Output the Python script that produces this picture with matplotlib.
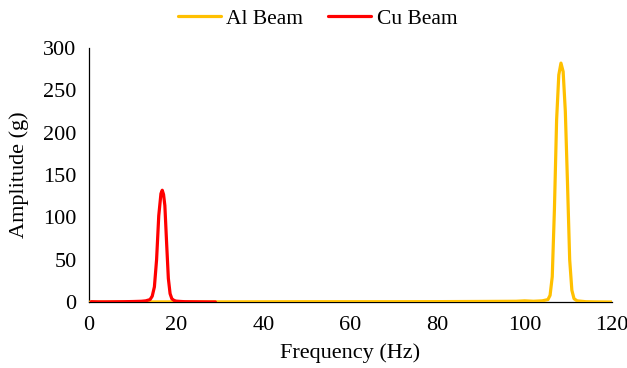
import matplotlib
matplotlib.use("Agg")
import matplotlib.pyplot as plt

# Al beam spectrum (Hz, g)
al_freq = [0, 10, 20, 30, 40, 50, 60, 70, 80, 90, 98, 100, 102, 104, 105.3,
           105.8, 106.3, 106.8, 107.3, 107.8, 108.3, 108.8, 109.3, 109.8, 110.3,
           110.8, 111.3, 112, 114, 116, 118, 120]
al_amp = [0, 0.2, 0.3, 0.3, 0.4, 0.5, 0.5, 0.5, 0.6, 0.8, 1, 1.5, 1, 1.5, 3,
          8, 30, 110, 215, 268, 282, 272, 225, 140, 50,
          14, 4, 1.5, 0.5, 0.3, 0.2, 0.1]

# Cu beam spectrum (Hz, g)
cu_freq = [0.5, 2, 4, 6, 8, 10, 12, 13, 14, 14.5, 15, 15.5, 16, 16.5,
           16.8, 17.1, 17.4, 17.8, 18.2, 18.6, 19, 19.5, 20, 21, 22, 24,
           26, 28, 29]
cu_amp = [0.5, 0.3, 0.3, 0.4, 0.5, 0.7, 1, 1.5, 3, 7, 18, 50, 102, 128,
          132, 127, 114, 70, 28, 10, 4, 2, 1.2, 0.8, 0.5, 0.4,
          0.3, 0.2, 0.2]

plt.rcParams['font.family'] = ['Liberation Serif', 'DejaVu Serif']

fig = plt.figure(figsize=(6.27, 3.68), dpi=100)
ax = fig.add_axes([0.142, 0.179, 0.834, 0.691])

ax.plot(al_freq, al_amp, color='#FFC000', linewidth=2.3, label='Al Beam',
        solid_capstyle='round', zorder=3)
ax.plot(cu_freq, cu_amp, color='#FF0000', linewidth=2.3, label='Cu Beam',
        solid_capstyle='round', zorder=4)

ax.set_xlim(0, 120)
ax.set_ylim(0, 300)
ax.set_xticks(range(0, 121, 20))
ax.set_yticks(range(0, 301, 50))
ax.tick_params(length=0, labelsize=16)
ax.tick_params(axis='x', pad=10)
ax.tick_params(axis='y', pad=9)
ax.spines['top'].set_visible(False)
ax.spines['right'].set_visible(False)
ax.spines['left'].set_linewidth(0.9)
ax.spines['bottom'].set_linewidth(0.9)
for s in ax.spines.values():
    s.set_zorder(1)

ax.set_xlabel('Frequency (Hz)', fontsize=16, labelpad=6)
ax.set_ylabel('Amplitude (g)', fontsize=16, labelpad=10)

ax.legend(loc='lower center', bbox_to_anchor=(0.437, 1.015), ncol=2,
          frameon=False, fontsize=15.5, handlelength=2.0, columnspacing=1.15,
          handletextpad=0.25, borderaxespad=0.3)

fig.savefig('out.png', dpi=100)
